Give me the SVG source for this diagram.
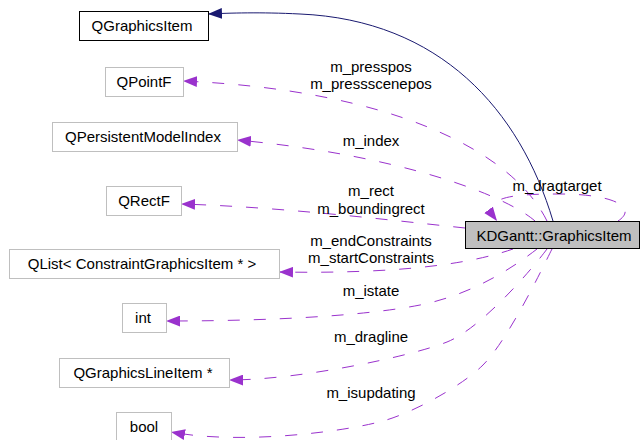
<svg xmlns="http://www.w3.org/2000/svg" width="641" height="440" viewBox="0 0 641 440">
<style>
  text { font-family: "Liberation Sans", Arial, Helvetica, sans-serif; font-size: 15px; fill: #000; }
  .node text { text-anchor: middle; }
  .box { fill: #fff; stroke: #bfbfbf; stroke-width: 1; }
  .base { fill: #fff; stroke: #000; stroke-width: 1; }
  .main { fill: #bfbfbf; stroke: #000; stroke-width: 1; }
  .use { fill: none; stroke: #9a32cd; stroke-width: 1; stroke-dasharray: 12,14; marker-end: url(#ap); }
  .inh { fill: none; stroke: #191970; stroke-width: 1; marker-end: url(#an); }
  .lbl { text-anchor: middle; }
</style>
<defs>
  <marker id="ap" markerUnits="userSpaceOnUse" markerWidth="14" markerHeight="11" viewBox="0 0 13 10" refX="13" refY="5" orient="auto">
    <path d="M0,0 L13,5 L0,10 z" fill="#9a32cd" stroke="none"/>
  </marker>
  <marker id="an" markerUnits="userSpaceOnUse" markerWidth="14" markerHeight="11" viewBox="0 0 13 10" refX="13" refY="5" orient="auto">
    <path d="M0,0 L13,5 L0,10 z" fill="#191970" stroke="none"/>
  </marker>
</defs>
<rect width="641" height="440" fill="#fff"/>

<g id="connectors">
  <path class="inh" d="M553,221 C520,110 440,20 300,14 C260,12 230,13 208,14"/>
  <path class="use" d="M547,221 C512,150 390,90 183,81"/>
  <path class="use" d="M535,221 C505,195 400,155 237,140"/>
  <path class="use" d="M465,228 C380,219 280,207 181,204"/>
  <path class="use" d="M513,249 C470,264 400,274 279,272"/>
  <path class="use" d="M537,249 C510,270 470,295 420,305 C380,313 300,321 166,321"/>
  <path class="use" d="M547,249 C533,268 482,328 447,342 C412,356 300,380 229,380"/>
  <path class="use" d="M552,249 C542,269 508,340 483,365 C463,385 415,412 383,421 C343,432 240,445 171,432"/>
  <path class="use" d="M618,221 C638,208 615,194 560,194 C515,194 478,196 497,221"/>
  <text class="lbl" x="371" y="72">m_presspos</text>
  <text class="lbl" x="371" y="89">m_pressscenepos</text>
  <text class="lbl" x="371" y="146">m_index</text>
  <text class="lbl" x="371" y="196">m_rect</text>
  <text class="lbl" x="371" y="214">m_boundingrect</text>
  <text class="lbl" x="371" y="246">m_endConstraints</text>
  <text class="lbl" x="371" y="263">m_startConstraints</text>
  <text class="lbl" x="371" y="296">m_istate</text>
  <text class="lbl" x="371" y="342">m_dragline</text>
  <text class="lbl" x="371" y="398">m_isupdating</text>
  <text class="lbl" x="557" y="191">m_dragtarget</text>
</g>

<g id="node-main" class="node">
  <rect class="main" x="465.5" y="221.5" width="174" height="27"/>
  <text x="554" y="241">KDGantt::GraphicsItem</text>
</g>
<g id="node-QGraphicsItem" class="node">
  <rect class="base" x="79.5" y="11.5" width="129" height="29"/>
  <text x="142" y="31">QGraphicsItem</text>
</g>
<g id="node-QPointF" class="node">
  <rect class="box" x="105.5" y="67.5" width="78" height="29"/>
  <text x="144" y="87">QPointF</text>
</g>
<g id="node-QPersistentModelIndex" class="node">
  <rect class="box" x="52.5" y="122.5" width="185" height="29"/>
  <text x="143" y="142">QPersistentModelIndex</text>
</g>
<g id="node-QRectF" class="node">
  <rect class="box" x="106.5" y="186.5" width="75" height="29"/>
  <text x="144" y="206">QRectF</text>
</g>
<g id="node-QList" class="node">
  <rect class="box" x="9.5" y="249.5" width="270" height="29"/>
  <text x="142" y="269">QList&lt; ConstraintGraphicsItem * &gt;</text>
</g>
<g id="node-int" class="node">
  <rect class="box" x="122.5" y="303.5" width="44" height="29"/>
  <text x="143" y="323">int</text>
</g>
<g id="node-QGraphicsLineItem" class="node">
  <rect class="box" x="59.5" y="358.5" width="170" height="29"/>
  <text x="143" y="378">QGraphicsLineItem *</text>
</g>
<g id="node-bool" class="node">
  <rect class="box" x="116.5" y="412.5" width="55" height="29"/>
  <text x="144" y="432">bool</text>
</g>
</svg>
